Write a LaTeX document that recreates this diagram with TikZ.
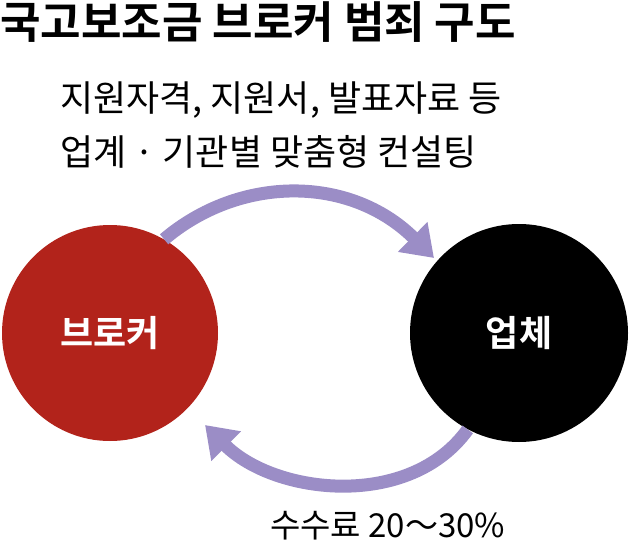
\documentclass[tikz,border=0pt]{standalone}
\usepackage{fontspec}
\setmainfont{Noto Sans CJK KR}
\newfontfamily\kb{Noto Sans CJK KR Bold}
\usetikzlibrary{arrows.meta}
\definecolor{brk}{HTML}{B2231B}
\definecolor{arc}{HTML}{9B8DC6}
\tikzset{flow/.style={draw=arc,line width=13pt,-{Triangle[length=30pt,width=40pt]}},
 lbl/.style={anchor=west,font=\fontsize{36}{40}\selectfont,inner sep=0pt}}
\begin{document}
\begin{tikzpicture}[x=1pt,y=-1pt]
\useasboundingbox (0,0) rectangle (631,548);
\node[anchor=west,inner sep=0pt,font=\kb\fontsize{44}{48}\selectfont] (title) at (0,22) {국고보조금 브로커 범죄 구도};
\node[lbl] (l1) at (60,100) {지원자격, 지원서, 발표자료 등};
\node[lbl] (l2) at (60,152) {업계 · 기관별 맞춤형 컨설팅};
\node[circle,fill=brk,minimum size=216pt,inner sep=0pt,text=white,font=\kb\fontsize{36}{40}\selectfont] (b) at (110,333) {브로커};
\node[circle,fill=black,minimum size=218pt,inner sep=0pt,text=white,font=\kb\fontsize{36}{40}\selectfont] (c) at (519,333) {업체};
\draw[flow] (b.60) .. controls (240,175) and (350,175) .. (434,258);
\draw[flow] (c.-118) .. controls (410,510) and (275,495) .. (205,425);
\node[lbl,font=\fontsize{33}{38}\selectfont] (fee) at (270,526) {수수료 20～30\%};
\end{tikzpicture}
\end{document}
